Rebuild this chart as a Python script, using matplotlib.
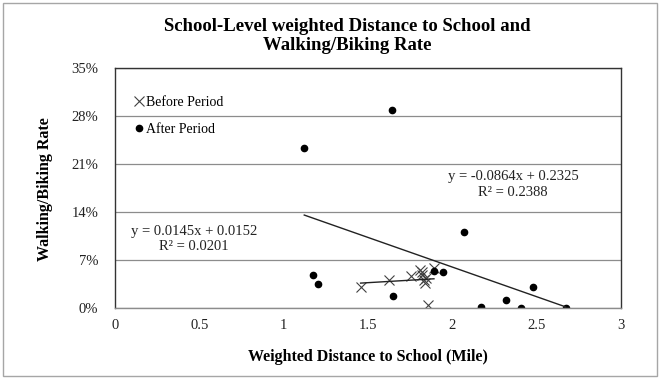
import matplotlib
matplotlib.use("Agg")
import matplotlib.pyplot as plt
import numpy as np
from matplotlib.patches import Rectangle
from matplotlib.ticker import FuncFormatter

# before period (x markers)
before_dist = [1.456, 1.626, 1.753, 1.808, 1.818, 1.832, 1.838, 1.891, 1.857, 1.822, 1.845]
before_rate = [0.030, 0.041, 0.046, 0.055, 0.048, 0.041, 0.036, 0.058, 0.004, 0.052, 0.044]

# after period (dots)
after_dist = [1.122, 1.640, 2.071, 1.176, 1.205, 1.646, 1.893, 1.946, 2.476, 2.170, 2.316, 2.410, 2.671]
after_rate = [0.233, 0.289, 0.111, 0.048, 0.035, 0.018, 0.0535, 0.052, 0.031, 0.002, 0.012, 0.0, 0.0]

before_fit = (0.0145, 0.0152)
after_fit = (-0.0864, 0.2325)
before_eq = "y = 0.0145x + 0.0152\nR² = 0.0201"
after_eq = "y = -0.0864x + 0.2325\nR² = 0.2388"

title = "School-Level weighted Distance to School and\nWalking/Biking Rate"
xlabel = "Weighted Distance to School (Mile)"
ylabel = "Walking/Biking Rate"
yticks = [0, 0.07, 0.14, 0.21, 0.28, 0.35]
xticks = [0, 0.5, 1, 1.5, 2, 2.5, 3]

plt.rcParams["font.family"] = ["Liberation Serif", "DejaVu Serif"]

fig = plt.figure(figsize=(6.61, 3.79), dpi=100)
ax = fig.add_axes([0.174, 0.1873, 0.7655, 0.6333])

ax.set_xlim(0, 3)
ax.set_ylim(0, 0.35)
ax.set_xticks(xticks)
ax.set_yticks(yticks)
ax.xaxis.set_major_formatter(FuncFormatter(lambda v, p: f"{v:g}"))
ax.yaxis.set_major_formatter(FuncFormatter(lambda v, p: f"{round(v * 100)}%"))
ax.tick_params(length=0, labelsize=10.5, colors="#222222")
ax.tick_params(axis="y", pad=12)
ax.tick_params(axis="x", pad=8)
ax.grid(axis="y", color="#8c8c8c", linewidth=0.9)
ax.set_axisbelow(True)
for side in ("left", "top", "right"):
    ax.spines[side].set_color("#333333")
    ax.spines[side].set_linewidth(1.0)
ax.spines["bottom"].set_color("#8c8c8c")
ax.spines["bottom"].set_linewidth(1.0)

ax.plot(before_dist, before_rate, linestyle="none", marker="x", markersize=7,
        markeredgewidth=0.8, color="#404040", label="Before Period")
ax.plot(after_dist, after_rate, linestyle="none", marker="o", markersize=4.5,
        color="black", label="After Period")

# trendlines over the range of each series
bx = np.array([min(before_dist), max(before_dist)])
ax.plot(bx, before_fit[0] * bx + before_fit[1], color="#222222", linewidth=1.0)
axx = np.array([min(after_dist), max(after_dist)])
ax.plot(axx, after_fit[0] * axx + after_fit[1], color="#222222", linewidth=1.0)

ax.text(0.47, 0.101, before_eq, ha="center", va="center", fontsize=10.5,
        linespacing=1.25, color="#222222")
ax.text(2.36, 0.180, after_eq, ha="center", va="center", fontsize=10.5,
        linespacing=1.25, color="#222222")

ax.legend(loc="upper left", bbox_to_anchor=(0.02, 0.925), frameon=False,
          fontsize=10, handlelength=0.6, handletextpad=0.2, labelspacing=1.0,
          borderaxespad=0.3)

fig.text(0.525, 0.905, title, ha="center", va="center", fontsize=13.5,
         fontweight="bold", linespacing=1.15)
fig.text(0.557, 0.058, xlabel, ha="center", va="center", fontsize=11.5,
         fontweight="bold")
fig.text(0.068, 0.50, ylabel, ha="center", va="center", fontsize=11.5,
         fontweight="bold", rotation=90)

fig.patches.append(Rectangle((0.004, 0.008), 0.99, 0.985, transform=fig.transFigure,
                             fill=False, edgecolor="#a6a6a6", linewidth=1.0))

fig.savefig("out.png", dpi=100)
